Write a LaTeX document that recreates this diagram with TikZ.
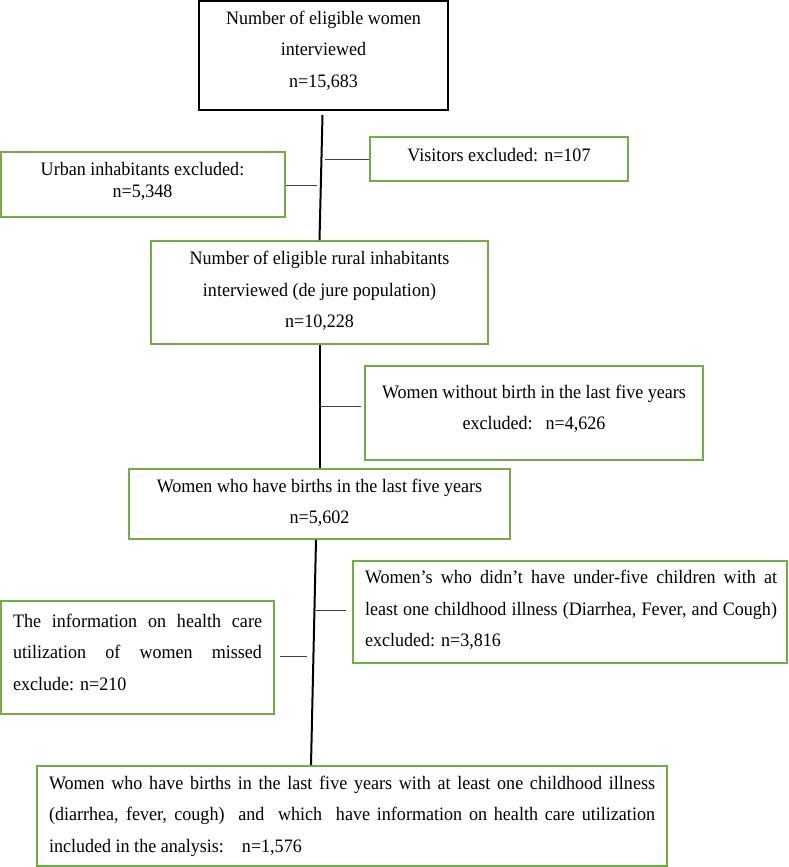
\documentclass[tikz,border=0pt]{standalone}
\usepackage{fontspec}
\setmainfont{Liberation Serif}[FakeStretch=0.95]
\definecolor{boxgreen}{RGB}{112,173,71}
\begin{document}
\begin{tikzpicture}[x=1pt,y=-1pt,
  gbox/.style={draw=boxgreen, line width=1.8pt, inner sep=0pt},
  kbox/.style={draw=black, line width=2.2pt, inner sep=0pt},
  txt/.style={inner sep=0pt, align=center, font=\fontsize{19}{31.5}\selectfont},
  trunk/.style={line width=2pt, black},
  side/.style={line width=0.9pt, black!75}]
\useasboundingbox (0,0) rectangle (789,867);
% boxes
\node[kbox, minimum width=249pt, minimum height=109pt] (b1) at (323.5,55.5) {};
\node[gbox, minimum width=258pt, minimum height=44pt] (vis) at (499,159) {};
\node[gbox, minimum width=284pt, minimum height=65pt] (urb) at (143,184.5) {};
\node[gbox, minimum width=337pt, minimum height=103pt] (b2) at (319.5,292.5) {};
\node[gbox, minimum width=338pt, minimum height=94pt] (wo) at (534,413) {};
\node[gbox, minimum width=381pt, minimum height=70pt] (b3) at (319.5,504) {};
\node[gbox, minimum width=434pt, minimum height=102pt] (ws) at (570,612) {};
\node[gbox, minimum width=273pt, minimum height=113pt] (lb) at (137.5,657.5) {};
\node[gbox, minimum width=630pt, minimum height=100pt] (b7) at (352,816) {};
% texts
\node[txt] (t1) at (323.5,50.3) {Number of eligible women\\interviewed\\n=15,683};
\node[txt] (tv) at (499,154.6) {Visitors excluded: n=107};
\node[txt, font=\fontsize{19}{22}\selectfont] (tu) at (142.5,181) {Urban inhabitants excluded:\\n=5,348};
\node[txt] (t2) at (319.5,291.2) {Number of eligible rural inhabitants\\interviewed (de jure population)\\n=10,228};
\node[txt] (two) at (534,408.8) {Women without birth in the last five years\\excluded:\hspace{7pt} n=4,626};
\node[txt] (t3) at (319.5,502.8) {Women who have births in the last five years\\n=5,602};
\node[txt] (tws) at (571,610.2) {\makebox[412pt][s]{Women’s who didn’t have under-five children with at}\\
  \makebox[412pt][s]{least one childhood illness (Diarrhea, Fever, and Cough)}\\
  \makebox[412pt][l]{excluded: n=3,816}};
\node[txt] (tlb) at (137.5,652.4) {\makebox[249pt][s]{The information on health care}\\
  \makebox[249pt][s]{utilization of women missed}\\
  \makebox[249pt][l]{exclude: n=210}};
\node[txt] (tb7) at (352,815.9) {\makebox[606pt][s]{Women who have births in the last five years with at least one childhood illness}\\
  \makebox[606pt][s]{(diarrhea, fever, cough)\ \ and\ \ which\ \ have information on health care utilization}\\
  \makebox[606pt][l]{included in the analysis:\hspace{12pt} n=1,576}};
% trunk
\coordinate (k1) at (322.5,115);
\coordinate (k3) at (311,765);
\draw[trunk] (k1) -- (b2.north);
\draw[trunk] (b2.south) -- (b3.north);
\draw[trunk] ([xshift=-3.5pt]b3.south) -- (k3);
% side connectors
\coordinate (jv) at (325,159);
\coordinate (ju) at (317,185.5);
\coordinate (jw) at (319,406);
\coordinate (js) at (315,610);
\coordinate (jl) at (307,656);
\draw[side] (jv) -- (vis.west);
\draw[side] (urb.east |- ju) -- (ju);
\draw[side] (jw) -- ([xshift=-3pt]jw -| wo.west);
\draw[side] (js) -- ([xshift=-6pt]js -| ws.west);
\draw[side] ([xshift=5pt]jl -| lb.east) -- (jl);
\end{tikzpicture}
\end{document}
